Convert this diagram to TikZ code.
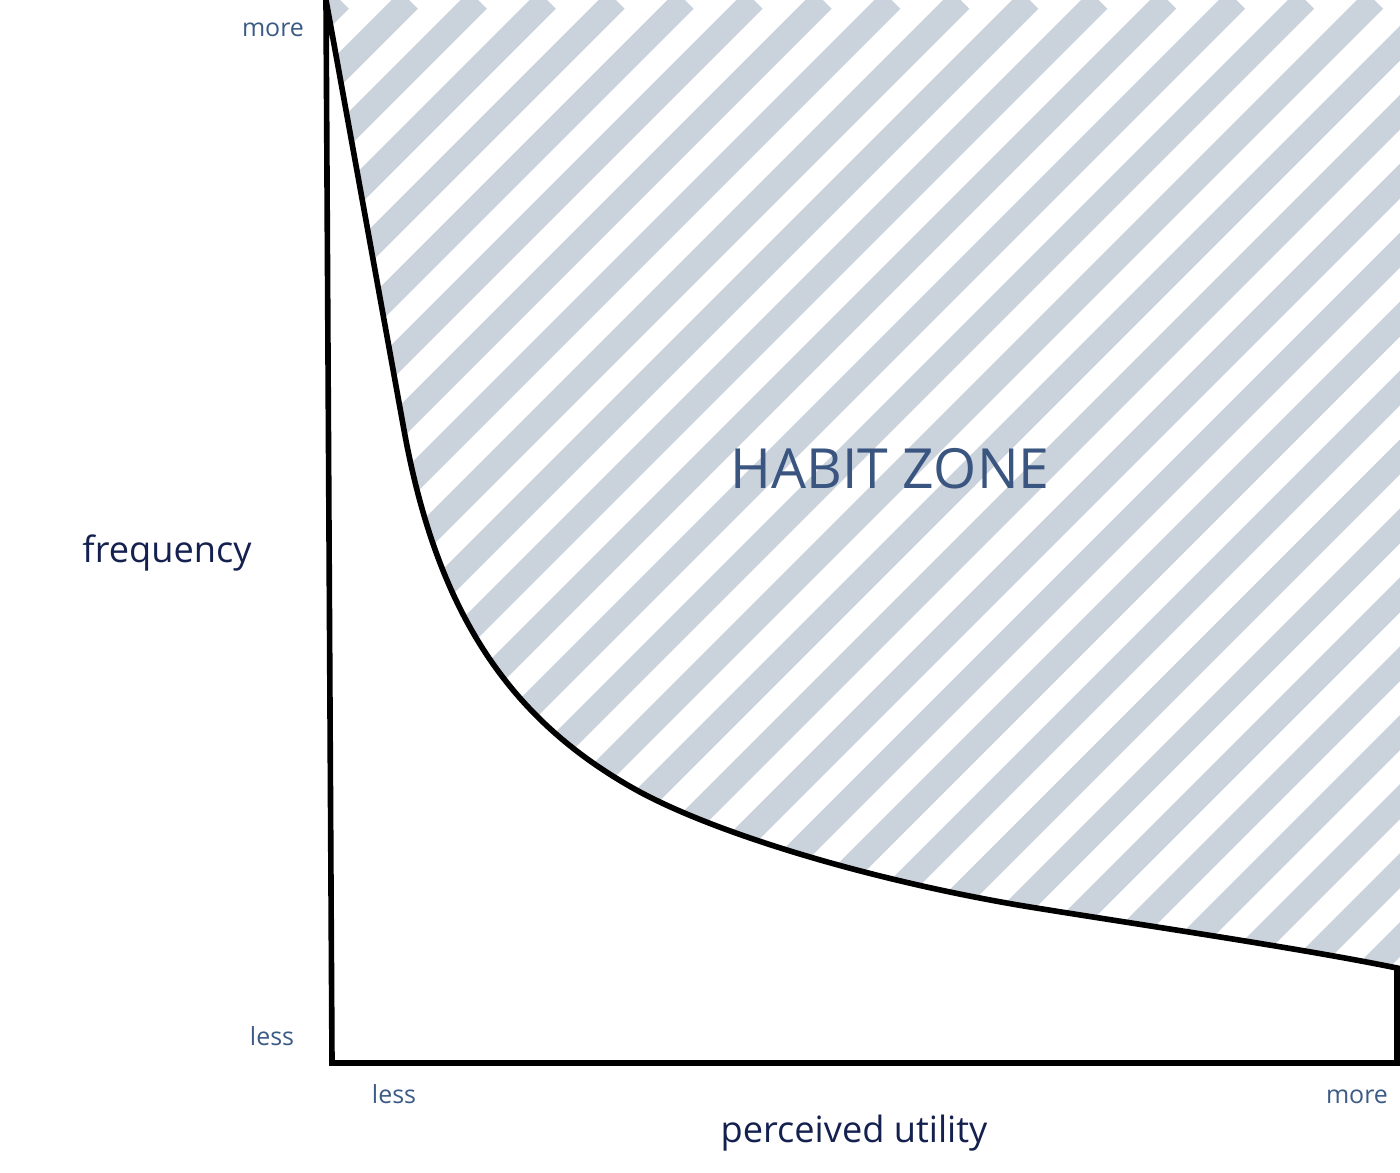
\documentclass[tikz,border=0pt]{standalone}
\usepackage{fontspec}
\setmainfont{Open Sans}
\definecolor{stripe}{HTML}{CAD2DC}
\definecolor{lbl}{HTML}{3B5B86}
\definecolor{navy}{HTML}{14214F}
\definecolor{zone}{HTML}{3A5680}
\tikzset{
  small/.style={text=lbl, font=\fontsize{14.2}{16}\selectfont, anchor=base, inner sep=0pt},
  axistitle/.style={text=navy, font=\fontsize{20.6}{24}\selectfont, anchor=base, inner sep=0pt},
  zonelabel/.style={text=zone, font=\fontsize{31.5}{36}\selectfont, anchor=base, inner sep=0pt},
  outline/.style={line width=3.2pt, line join=miter, black},
  hatch/.style={stripe, line width=0.494cm}
}
\def\habitcurve{(326,0) -- (404,430)
  .. controls (437,611) and (508,720) .. (640,792)
  .. controls (722,836) and (878,882) .. (1030,907)
  .. controls (1148,926) and (1299,948) .. (1397,968)}
\begin{document}
\begin{tikzpicture}[x=0.02cm, y=-0.02cm]
\useasboundingbox (0,0) rectangle (1400,1173);
% hatch region
\begin{scope}
  \clip \habitcurve -- (1400,968) -- (1400,0) -- cycle;
  \foreach \k in {-13,...,18} {
    \pgfmathsetmacro{\c}{1167.5+68.94*\k}
    \draw[hatch] (0,\c) -- (\c,0);
  }
\end{scope}
% outline
\draw[outline] \habitcurve -- (1397,1063) -- (332,1063) -- cycle;
% labels
\node[small] (ymore) at (273,36) {more};
\node[small] (yless) at (272,1045) {less};
\node[small] (xless) at (394,1103) {less};
\node[small] (xmore) at (1357,1103) {more};
\node[axistitle] (ytitle) at (167,562) {frequency};
\node[axistitle] (xtitle) at (854,1142) {perceived utility};
\node[zonelabel] (zone) at (890,488) {HABIT ZONE};
\end{tikzpicture}
\end{document}
